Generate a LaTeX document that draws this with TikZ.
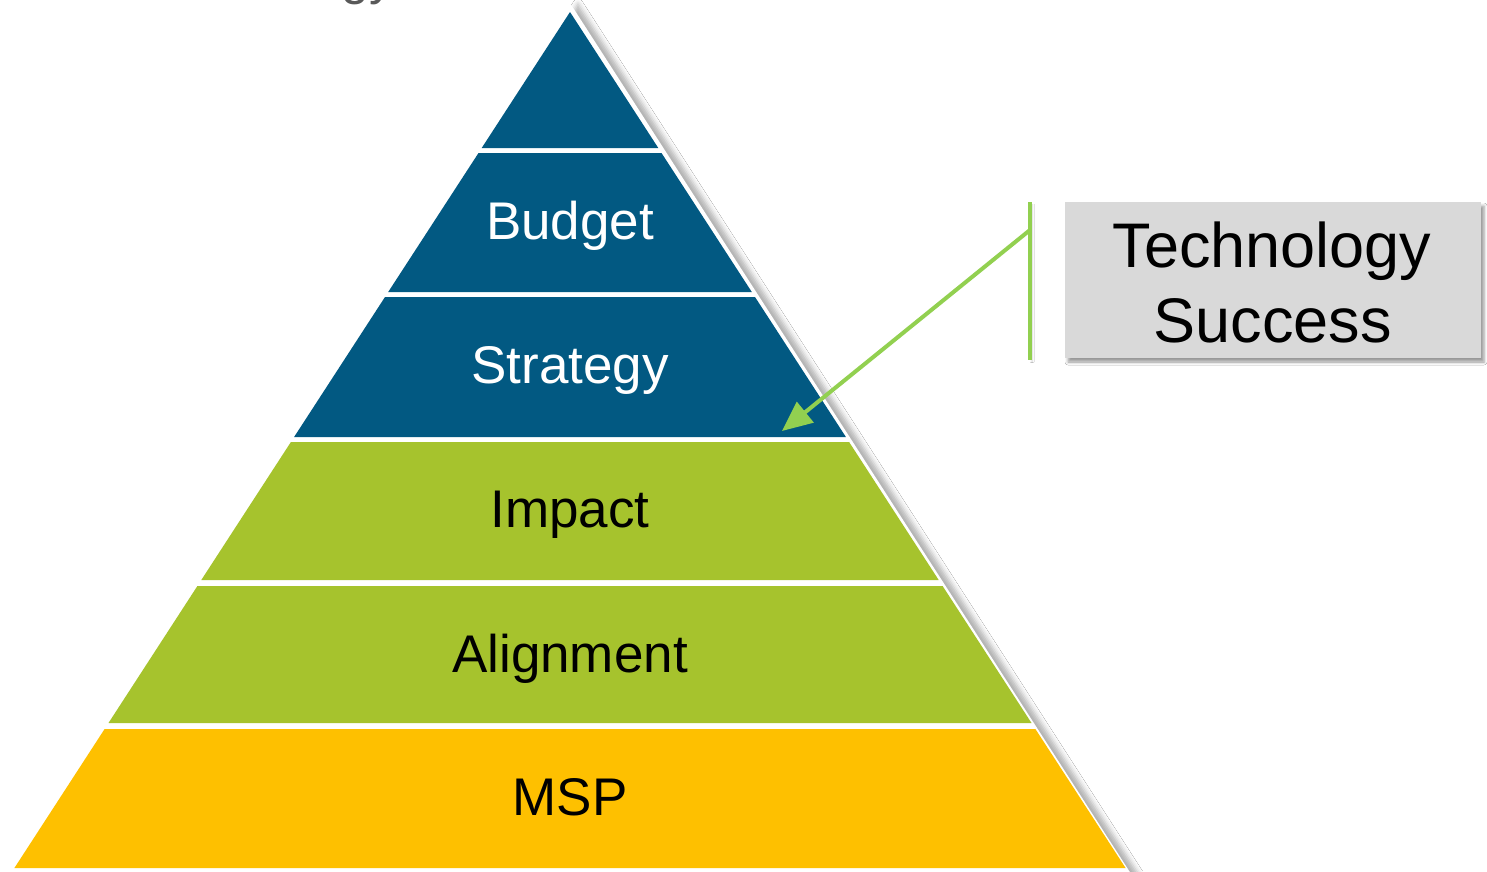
\documentclass[tikz,border=0pt]{standalone}
\usepackage{fontspec}
\setmainfont{Liberation Sans}
\usetikzlibrary{arrows.meta,shadows.blur}
\definecolor{pblue}{RGB}{2,89,130}
\definecolor{pgreen}{RGB}{166,195,45}
\definecolor{pyellow}{RGB}{254,192,0}
\definecolor{boxgray}{RGB}{217,217,217}
\definecolor{arrowgreen}{RGB}{146,208,80}
\definecolor{titlegray}{RGB}{89,89,89}
\begin{document}
\begin{tikzpicture}[x=1pt,y=-1pt,
  layertext/.style={anchor=base,inner sep=0pt,font=\fontsize{53}{60}\selectfont},
  boxtext/.style={anchor=base,inner sep=0pt,font=\fontsize{63}{75}\selectfont,text=black},
  greenline/.style={draw=arrowgreen,line width=4pt}]
\useasboundingbox (0,0) rectangle (1487,871);
\fill[white] (0,0) rectangle (1487,871);
% title fragment
\node[anchor=base west,inner sep=0pt,text=titlegray,font=\fontsize{50}{60}\selectfont] (titlefrag) at (341,-6) {gy};
% white outline with shadow
\fill[white,blur shadow={shadow xshift=8pt,shadow yshift=-1pt,shadow blur radius=5pt,shadow opacity=30}]
  (570,3) -- (1135,880) -- (5,880) -- cycle;
% layers
\fill[pblue] (570,12) -- (658.3,148) -- (481.7,148) -- cycle;
\fill[pblue] (478.5,153) -- (661.5,153) -- (751.8,292) -- (388.2,292) -- cycle;
\fill[pblue] (385.0,297) -- (755.0,297) -- (845.9,437) -- (294.1,437) -- cycle;
\fill[pgreen] (290.9,442) -- (849.1,442) -- (938.7,580) -- (201.3,580) -- cycle;
\fill[pgreen] (197.4,586) -- (942.6,586) -- (1031.5,723) -- (108.5,723) -- cycle;
\fill[pyellow] (104.6,729) -- (1035.4,729) -- (1125.6,868) -- (14.4,868) -- cycle;
% layer labels
\node[layertext,text=white] (budget) at (570,239) {Budget};
\node[layertext,text=white] (strategy) at (570,383) {Strategy};
\node[layertext,text=black] (impact) at (570,527) {Impact};
\node[layertext,text=black] (alignment) at (570,672) {Alignment};
\node[layertext,text=black] (msp) at (570,815) {MSP};
% callout box
\node[draw=none,fill=boxgray,minimum width=416pt,minimum height=156pt,inner sep=0pt,
  blur shadow={shadow xshift=3pt,shadow yshift=-4pt,shadow blur radius=3pt,shadow opacity=40}]
  (tsbox) at (1273,280) {};
\node[boxtext] (tech) at (1272,267) {Technology};
\node[boxtext] (succ) at (1272.5,342) {Success};
% connector
\coordinate (vtop) at (1030,202);
\coordinate (vbot) at (1030,360);
\coordinate (astart) at (1030,230);
\coordinate (atip) at (782,431);
\draw[greenline,blur shadow={shadow xshift=2pt,shadow yshift=-2pt,shadow blur radius=2pt,shadow opacity=20}] (vtop) -- (vbot);
\draw[greenline,-{Triangle[length=30pt,width=26pt]}] (astart) -- (atip);
\end{tikzpicture}
\end{document}
